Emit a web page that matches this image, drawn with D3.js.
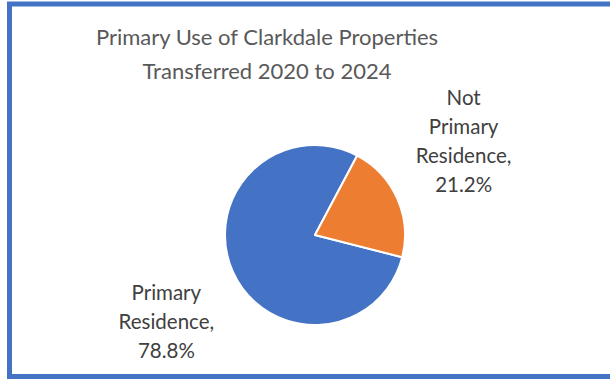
<!DOCTYPE html>
<html>
<head>
<meta charset="utf-8">
<script src="https://cdn.jsdelivr.net/npm/d3@7"></script>
<style>
  html, body { margin: 0; padding: 0; background: #ffffff; }
  svg { display: block; }
</style>
</head>
<body>
<script>
// Primary use of properties transferred, share of transfers (%)
const categories = ["Primary Residence", "Not Primary Residence"];
const shares = [78.8, 21.2];
const labelLines = [["Primary", "Residence,", "78.8%"], ["Not", "Primary", "Residence,", "21.2%"]];
const titleLines = ["Primary Use of Clarkdale Properties", "Transferred 2020 to 2024"];
const colors = ["#4472C4", "#ED7D31"];

const width = 610, height = 379;
const cx = 315, cy = 235, radius = 90;
const fontFamily = "Lato, 'Open Sans', sans-serif";

const svg = d3.select("body").append("svg")
  .attr("width", width)
  .attr("height", height);

svg.append("rect").attr("width", width).attr("height", height).attr("fill", "#ffffff");

// chart frame
svg.append("rect")
  .attr("x", 9.5).attr("y", 4)
  .attr("width", 610).attr("height", 372.5)
  .attr("fill", "none")
  .attr("stroke", "#4472C4")
  .attr("stroke-width", 5);

// title
svg.append("text")
  .attr("x", 267).attr("y", 45)
  .attr("text-anchor", "middle")
  .attr("font-family", fontFamily)
  .attr("font-size", 22)
  .attr("fill", "#595959")
  .selectAll("tspan")
  .data(titleLines)
  .join("tspan")
  .attr("x", 267)
  .attr("dy", (d, i) => i === 0 ? 0 : 34)
  .text(d => d);

// slices: the second slice ends 104° clockwise from 12 o'clock
const endOfSecond = 104.3 * Math.PI / 180;
const pie = d3.pie().sort(null).value(d => d)
  .startAngle(endOfSecond)
  .endAngle(endOfSecond + 2 * Math.PI);
const arcs = pie(shares);
const arc = d3.arc().innerRadius(0).outerRadius(radius);

const g = svg.append("g").attr("transform", `translate(${cx},${cy})`);
g.selectAll("path")
  .data(arcs)
  .join("path")
  .attr("d", arc)
  .attr("fill", (d, i) => colors[i])
  .attr("stroke", "#ffffff")
  .attr("stroke-width", 2)
  .attr("stroke-linejoin", "round");

// data labels, outside the pie
const labelRadius = 174;
const lineH = 29;
arcs.forEach((a, i) => {
  const mid = (a.startAngle + a.endAngle) / 2 - 0.13;
  const lx = labelRadius * Math.sin(mid);
  const ly = -labelRadius * Math.cos(mid);
  const lines = labelLines[i];
  const t = g.append("text")
    .attr("text-anchor", "middle")
    .attr("font-family", fontFamily)
    .attr("font-size", 20.5)
    .attr("fill", "#404040");
  t.selectAll("tspan")
    .data(lines)
    .join("tspan")
    .attr("x", lx)
    .attr("y", (d, j) => ly + (j - (lines.length - 1) / 2) * lineH + 4)
    .text(d => d);
});
</script>
</body>
</html>
